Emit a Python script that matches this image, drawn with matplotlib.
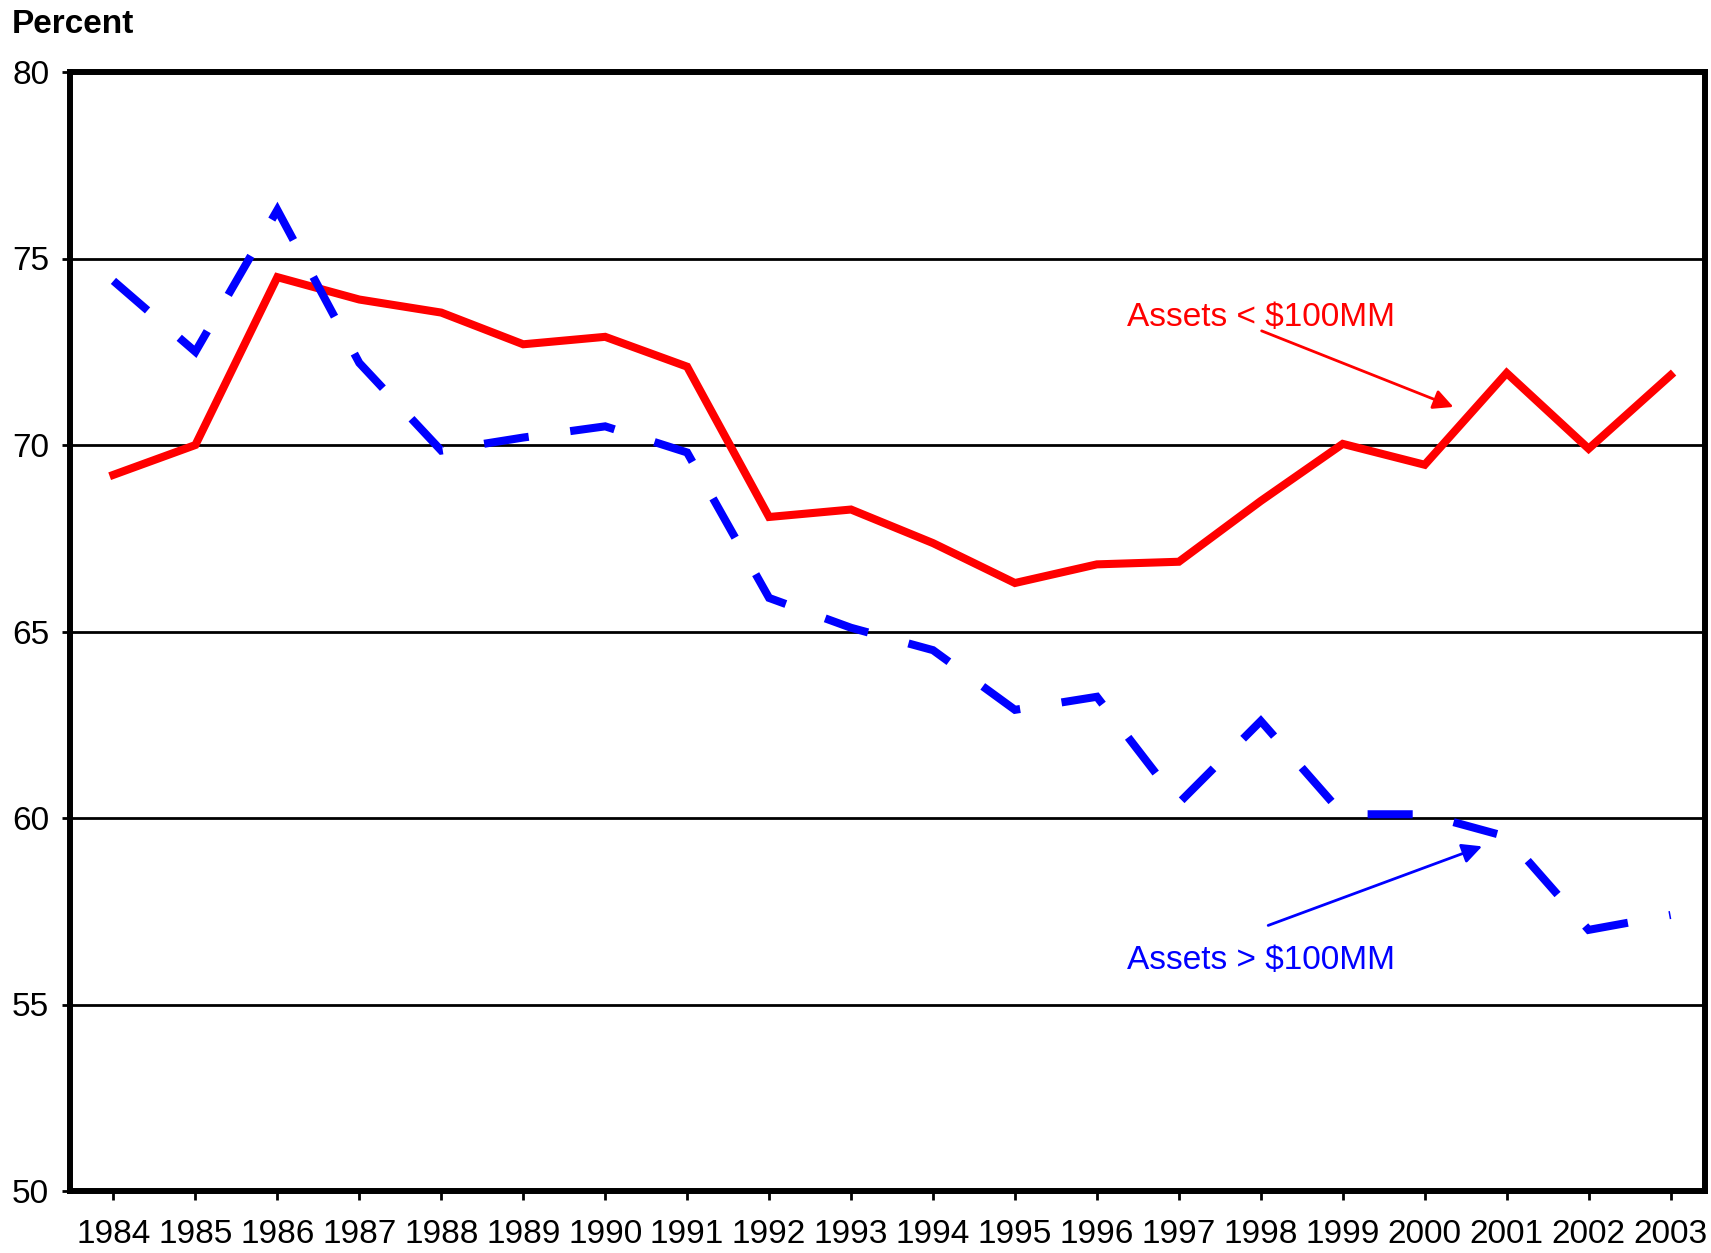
import matplotlib
matplotlib.use("Agg")
import matplotlib.pyplot as plt

plt.rcParams['font.family'] = ['Liberation Sans', 'DejaVu Sans']

years = list(range(1984, 2004))
# Assets < $100MM (red, solid)
small_assets = [69.2, 70.0, 74.5, 73.9, 73.55, 72.7, 72.9, 72.1, 68.07, 68.27,
                67.37, 66.3, 66.8, 66.87, 68.5, 70.03, 69.47, 71.93, 69.9, 71.87]
# Assets > $100MM (blue, dashed)
large_assets = [74.4, 72.5, 76.3, 72.2, 69.85, 70.2, 70.5, 69.8, 65.9, 65.1,
                64.5, 62.9, 63.25, 60.4, 62.6, 60.1, 60.1, 59.5, 57.0, 57.4]
y_ticks = [50, 55, 60, 65, 70, 75, 80]

fig = plt.figure(figsize=(17.11, 12.53), dpi=100)
ax = fig.add_axes([70 / 1711, 1 - 1191 / 1253, (1705 - 70) / 1711, (1191 - 72) / 1253])

# horizontal grid lines
for y in y_ticks[1:-1]:
    ax.axhline(y, color='black', linewidth=2.0, zorder=1)

ax.plot(years, small_assets, color='#ff0000', linewidth=5.8,
        solid_joinstyle='miter', zorder=3)
ax.plot(years, large_assets, color='#0000ff', linewidth=5.8,
        linestyle=(0, (5.6, 5.2)), dash_joinstyle='miter', zorder=3)

# labels with arrows
ax.text(1996.37, 73.19, 'Assets < $100MM', color='#ff0000', fontsize=24,
        ha='left', va='baseline')
ax.annotate('', xy=(2000.35, 71.02), xytext=(1998.01, 73.06),
            arrowprops=dict(arrowstyle='-|>', color='#ff0000', lw=2,
                            mutation_scale=30, shrinkA=0, shrinkB=0))
ax.text(1996.37, 55.96, 'Assets > $100MM', color='#0000ff', fontsize=24,
        ha='left', va='baseline')
ax.annotate('', xy=(2000.70, 59.24), xytext=(1998.09, 57.12),
            arrowprops=dict(arrowstyle='-|>', color='#0000ff', lw=2,
                            mutation_scale=30, shrinkA=0, shrinkB=0))

ax.set_xlim(1983.47, 2003.42)
ax.set_ylim(50, 80)
ax.set_xticks(years)
ax.set_xticklabels([str(y) for y in years], fontsize=24)
ax.set_yticks(y_ticks)
ax.set_yticklabels([str(y) for y in y_ticks], fontsize=24)
ax.tick_params(axis='x', direction='out', length=6.5, width=2, pad=14)
ax.tick_params(axis='y', direction='out', length=6, width=2, pad=9)

for side in ['left', 'right', 'top', 'bottom']:
    ax.spines[side].set_linewidth(4.3)
    ax.spines[side].set_color('black')

fig.text(12 / 1711, 1 - 33 / 1253, 'Percent', fontsize=24, fontweight='bold',
         ha='left', va='baseline')

fig.savefig('out.png', dpi=100)
